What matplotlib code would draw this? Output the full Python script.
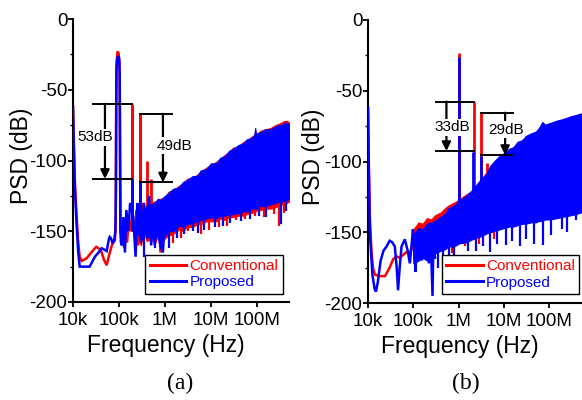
import numpy as np
import matplotlib
matplotlib.use("Agg")
import matplotlib.pyplot as plt
from matplotlib.ticker import FixedLocator, LogLocator, NullFormatter, MultipleLocator

plt.rcParams['font.family'] = ['Liberation Sans', 'DejaVu Sans']
plt.rcParams['axes.unicode_minus'] = False

RED = '#ff0000'
BLUE = '#0000ff'

# ---------------- panel (a) ----------------
# low-frequency traces (Hz, dB)
conv_a_f = [1.0e4, 1.05e4, 1.1e4, 1.2e4, 1.3e4, 1.4e4, 1.55e4, 2.0e4, 2.5e4, 3.2e4, 4.0e4, 4.7e4,
            5.4e4, 6.2e4, 7.0e4, 8.2e4, 8.5e4, 8.7e4, 8.9e4, 9.3e4, 9.8e4, 1.03e5, 1.06e5, 1.1e5,
            1.2e5, 1.3e5, 1.4e5, 1.5e5, 1.65e5, 1.8e5, 2.0e5, 2.2e5, 2.4e5, 2.6e5, 3.0e5, 3.4e5,
            3.8e5, 4.5e5, 5.2e5, 6.0e5, 7.0e5, 8.0e5, 9.0e5, 1.0e6]
conv_a_db = [-62, -90, -115, -140, -158, -168, -171, -169, -165, -161, -163, -170,
             -174, -166, -160, -156, -140, -60, -30, -23, -24, -32, -100, -158,
             -150, -162, -145, -158, -140, -150, -140, -155, -135, -160, -150, -130,
             -140, -155, -140, -160, -130, -165, -140, -150]
prop_a_f = [1.0e4, 1.05e4, 1.1e4, 1.2e4, 1.3e4, 1.4e4, 1.8e4, 2.3e4, 3.0e4, 3.6e4, 4.2e4, 4.8e4,
            5.4e4, 6.0e4, 6.3e4, 6.7e4, 7.2e4, 7.8e4, 8.4e4, 8.6e4, 8.8e4, 9.2e4, 9.7e4, 1.01e5,
            1.04e5, 1.07e5, 1.15e5, 1.25e5, 1.35e5, 1.45e5, 1.6e5, 1.75e5, 2.05e5, 2.3e5, 2.5e5,
            2.7e5, 3.1e5, 3.5e5, 4.0e5, 4.5e5, 5.0e5, 6.0e5, 7.0e5, 8.0e5, 9.0e5, 1.0e6]
prop_a_db = [-62, -95, -120, -145, -165, -175, -175, -175, -168, -165, -162, -163,
             -164, -156, -154, -155, -158, -157, -150, -120, -35, -28, -26, -28,
             -40, -150, -160, -140, -165, -135, -150, -130, -140, -168, -130,
             -150, -155, -130, -150, -125, -160, -130, -150, -160, -165, -140]

# dense noise floor envelopes
band_a_f = [2.5e5, 3e5, 3.5e5, 4e5, 5e5, 6e5, 7e5, 8e5, 1e6, 1.2e6, 1.5e6, 2e6, 2.5e6, 3e6,
            4e6, 5e6, 6e6, 8e6, 1e7, 1.3e7, 1.6e7, 2e7, 2.5e7, 3e7, 4e7, 5e7, 6e7, 7e7, 8e7,
            8.8e7, 9.2e7, 9.6e7, 1e8, 1.2e8, 1.5e8, 2e8, 2.5e8, 3e8, 3.5e8, 4e8, 4.5e8, 5e8]
prop_a_hi = [-140, -136, -135, -132, -131, -130, -127, -128, -125, -123, -120, -119, -115, -114,
             -111, -111, -107, -106, -102, -102, -98, -97, -93, -92, -89, -88, -85, -85, -83,
             -82, -77, -82, -81, -80, -78, -78, -76, -75, -75, -73, -74, -74]
prop_a_lo = [-150, -158, -148, -155, -152, -157, -150, -158, -153, -150, -150, -146, -147, -145,
             -144, -143, -142, -141, -140, -141, -139, -139, -138, -138, -137, -136, -136, -135, -134,
             -134, -133, -134, -133, -132, -132, -131, -130, -129, -129, -128, -128, -127]
conv_a_hi = [-139, -137, -134, -133, -130, -129, -128, -127, -126, -122, -121, -118, -116, -113,
             -112, -110, -108, -105, -103, -101, -99, -96, -94, -91, -90, -87, -86, -84, -83,
             -82, -79, -82, -81, -79, -78, -77, -75, -74, -73, -72, -72, -73]
conv_a_lo = [-152, -160, -150, -157, -155, -159, -153, -160, -155, -153, -152, -149, -150, -147,
             -147, -145, -145, -143, -143, -143, -141, -142, -140, -140, -139, -139, -138, -137, -137,
             -136, -136, -136, -135, -135, -134, -134, -133, -132, -131, -131, -130, -129]
# narrow dips below the floor
prop_a_dip_f = [3.5e5, 6e5, 9e5, 1.2e6, 1.8e6, 2.6e6, 4e6, 5.2e6, 7e6, 1.2e7, 1.8e7, 2.6e7,
                4.5e7, 7e7, 1.1e8, 1.6e8, 3.3e8, 4.2e8]
prop_a_dip_db = [-168, -162, -165, -162, -155, -152, -150, -151, -149, -147, -146, -144,
                 -143, -141, -139, -140, -145, -136]
conv_a_dip_f = [1.5e6, 2.2e6, 3.2e6, 6e6, 9e6, 1.5e7, 2.2e7, 3.5e7, 5.5e7, 9e7, 1.4e8, 2.4e8,
                3.1e8, 3.8e8]
conv_a_dip_db = [-158, -155, -150, -152, -149, -147, -146, -142, -141, -139, -140, -138,
                 -146, -137]
# spurious tones (frequency, top)
conv_a_spk_f = [1.88e5, 1.93e5, 2.87e5, 2.93e5, 4.0e5, 5.0e5]
conv_a_spk_db = [-62, -60, -68, -67, -100, -113]
prop_a_spk_f = [1.9e5, 2.9e5]
prop_a_spk_db = [-113, -115]

# ---------------- panel (b) ----------------
conv_b_f = [1.0e4, 1.04e4, 1.1e4, 1.2e4, 1.3e4, 1.43e4, 1.8e4, 2.37e4, 3.0e4, 3.6e4, 4.26e4, 5.0e4,
            6.0e4, 7.0e4, 8.0e4, 9.8e4, 1.1e5, 1.2e5, 1.3e5, 1.4e5, 1.5e5, 1.7e5, 1.9e5, 2.1e5,
            2.3e5, 2.6e5, 2.9e5, 3.2e5]
conv_b_db = [-62, -100, -140, -165, -176, -180, -181, -181, -175, -169, -167, -168,
             -166, -164, -165, -161, -150, -162, -148, -160, -146, -158, -143, -155,
             -143, -150, -140, -152]
prop_b_f = [1.0e4, 1.04e4, 1.1e4, 1.25e4, 1.4e4, 1.5e4, 1.65e4, 1.9e4, 2.2e4, 2.57e4, 3.0e4, 3.4e4,
            3.9e4, 4.3e4, 4.6e4, 5.0e4, 5.5e4, 6.5e4, 7.5e4, 8.4e4, 9.2e4, 9.8e4, 1.05e5, 1.12e5,
            1.2e5, 1.3e5, 1.4e5, 1.55e5, 1.7e5, 1.85e5, 2.0e5, 2.2e5, 2.4e5, 2.65e5, 2.8e5, 3.0e5]
prop_b_db = [-62, -105, -150, -180, -190, -192, -185, -170, -163, -160, -156, -157,
             -160, -175, -191, -175, -160, -155, -163, -172, -158, -148, -160, -178,
             -155, -168, -150, -170, -148, -165, -146, -172, -150, -195, -148, -168]

band_b_f = [1e5, 1.3e5, 1.6e5, 2e5, 2.5e5, 3e5, 4e5, 5e5, 6e5, 8e5, 1e6, 1.5e6, 2e6, 3e6, 4e6,
            5e6, 6e6, 8e6, 1e7, 1.3e7, 1.6e7, 2e7, 2.5e7, 3e7, 4e7, 5e7, 6e7, 7e7, 8e7, 1e8,
            1.5e8, 2e8, 3e8, 4e8, 5e8]
prop_b_hi = [-152, -147, -148, -144, -143, -142, -139, -137, -133, -131, -128, -124, -120, -113,
             -109, -103, -100, -96, -94, -91, -90, -86, -85, -82, -80, -79, -76, -72, -74, -73,
             -71, -70, -68, -67, -66]
prop_b_lo = [-172, -170, -168, -170, -167, -165, -163, -162, -160, -160, -158, -157, -155, -153,
             -151, -150, -149, -148, -147, -146, -146, -145, -144, -144, -143, -143, -142, -142,
             -141, -141, -140, -139, -138, -137, -136]
conv_b_hi = [-148, -143, -144, -140, -141, -138, -136, -133, -131, -129, -127, -123, -121, -114,
             -108, -104, -101, -97, -95, -92, -90, -87, -85, -83, -81, -79, -77, -74, -75, -73,
             -72, -71, -69, -68, -67]
conv_b_lo = [-168, -166, -165, -165, -163, -160, -160, -158, -157, -156, -155, -154, -153, -151,
             -150, -149, -148, -147, -146, -145, -145, -144, -143, -143, -142, -142, -141, -141,
             -140, -140, -139, -138, -137, -136, -135]
prop_b_dip_f = [3.5e5, 4.5e5, 6e5, 8e5, 1.2e6, 1.6e6, 2.4e6, 3.5e6, 5e6, 7e6, 1.1e7, 1.5e7,
                2.2e7, 3e7, 4.5e7, 7.4e7, 1.1e8, 1.9e8, 2.5e8, 3.9e8]
prop_b_dip_db = [-175, -170, -172, -166, -158, -163, -163, -160, -164, -158, -159, -156,
                 -160, -155, -158, -159, -152, -148, -150, -141]
conv_b_dip_f = [3.8e5, 7e5, 1.4e6, 2.8e6, 6e6]
conv_b_dip_db = [-163, -165, -160, -158, -155]
conv_b_spk_f = [1.0e6, 2.14e6, 3.17e6, 4.3e6, 5.2e6]
conv_b_spk_db = [-23, -58, -66, -101, -108]
prop_b_spk_f = [1.02e6, 2.1e6, 3.15e6]
prop_b_spk_db = [-26, -93, -96]

x_ticks = [1e4, 1e5, 1e6, 1e7, 1e8]
x_labels = ['10k', '100k', '1M', '10M', '100M']
y_ticks = [0, -50, -100, -150, -200]


def draw_series(ax, color, z, f, db, bf, hi, lo, dip_f, dip_db, spk_f, spk_db, label):
    ax.plot(f, db, color=color, lw=1.8, label=label, solid_joinstyle='miter', zorder=z)
    ax.fill_between(bf, lo, hi, color=color, lw=0.8, edgecolor=color, zorder=z)
    ax.vlines(dip_f, dip_db, np.array(dip_db) + 25, color=color, lw=1.6, zorder=z)
    ax.vlines(spk_f, -150, spk_db, color=color, lw=2.0, zorder=z)


def bracket(ax, x0, x1, top, bot, xa, text, xt, yt):
    ax.plot([x0, x1], [top, top], color='k', lw=1.4, zorder=5)
    ax.plot([x0, x1], [bot, bot], color='k', lw=1.4, zorder=5)
    ax.annotate('', xy=(xa, bot), xytext=(xa, top),
                arrowprops=dict(arrowstyle='-|>', color='k', lw=1.6, mutation_scale=13,
                                shrinkA=0, shrinkB=0), zorder=6)
    ax.text(xt, yt, text, ha='center', va='center', fontsize=11, zorder=7,
            bbox=dict(facecolor='white', edgecolor='none', pad=1.0))


def style_axes(ax, legend_anchor, ylab_x, xlab_x, xlab_y):
    ax.set_xscale('log')
    ax.set_xlim(1e4, 5e8)
    ax.set_ylim(-200, 0)
    for s in ['top', 'right']:
        ax.spines[s].set_visible(False)
    for s in ['left', 'bottom']:
        ax.spines[s].set_linewidth(1.5)
    ax.xaxis.set_major_locator(FixedLocator(x_ticks))
    ax.set_xticklabels(x_labels)
    ax.xaxis.set_minor_locator(LogLocator(base=10, subs=np.arange(2, 10)))
    ax.xaxis.set_minor_formatter(NullFormatter())
    ax.set_yticks(y_ticks)
    ax.set_yticklabels([str(v) for v in y_ticks])
    ax.yaxis.set_minor_locator(MultipleLocator(25))
    ax.tick_params(which='major', direction='out', length=3.6, width=1.3, labelsize=13.5)
    ax.tick_params(axis='y', which='major', pad=0.5)
    ax.tick_params(axis='x', which='major', pad=3.5)
    ax.tick_params(which='minor', direction='out', length=2.2, width=1.0)
    ax.set_xlabel('Frequency (Hz)', fontsize=16.5, va='center')
    ax.set_ylabel('PSD (dB)', fontsize=16.5, va='center')
    ax.yaxis.set_label_coords(ylab_x, 0.515)
    ax.xaxis.set_label_coords(xlab_x, xlab_y)
    leg = ax.legend(loc='lower right', bbox_to_anchor=legend_anchor, borderaxespad=0,
                    fontsize=11, labelcolor='linecolor', fancybox=False, framealpha=1,
                    edgecolor='k', handlelength=2.4, handletextpad=0.2, borderpad=0.3,
                    labelspacing=0.15)
    leg.set_zorder(10)
    leg.get_frame().set_linewidth(1.0)
    for line in leg.get_lines():
        line.set_linewidth(2.2)


fig = plt.figure(figsize=(5.82, 4.0), dpi=100)
ax_a = fig.add_axes([0.1254, 0.245, 0.3712, 0.7075])
ax_b = fig.add_axes([0.6323, 0.2425, 0.366, 0.7075])

draw_series(ax_a, RED, 2, conv_a_f, conv_a_db, band_a_f, conv_a_hi, conv_a_lo,
            conv_a_dip_f, conv_a_dip_db, conv_a_spk_f, conv_a_spk_db, 'Conventional')
draw_series(ax_a, BLUE, 3, prop_a_f, prop_a_db, band_a_f, prop_a_hi, prop_a_lo,
            prop_a_dip_f, prop_a_dip_db, prop_a_spk_f, prop_a_spk_db, 'Proposed')
bracket(ax_a, 2.72e4, 1.92e5, -60, -113, 4.96e4, '53dB', 3.0e4, -83.5)
bracket(ax_a, 2.86e5, 1.42e6, -67, -115.5, 9.05e5, '49dB', 1.57e6, -89.6)
style_axes(ax_a, (0.972, 0.028), -0.24, 0.43, -0.155)

draw_series(ax_b, RED, 2, conv_b_f, conv_b_db, band_b_f, conv_b_hi, conv_b_lo,
            conv_b_dip_f, conv_b_dip_db, conv_b_spk_f, conv_b_spk_db, 'Conventional')
draw_series(ax_b, BLUE, 3, prop_b_f, prop_b_db, band_b_f, prop_b_hi, prop_b_lo,
            prop_b_dip_f, prop_b_dip_db, prop_b_spk_f, prop_b_spk_db, 'Proposed')
bracket(ax_b, 3.12e5, 2.14e6, -57.7, -92.6, 5.37e5, '33dB', 7.38e5, -75.8)
bracket(ax_b, 3.05e6, 1.62e7, -65.5, -95.4, 1.06e7, '29dB', 1.12e7, -77.5)
style_axes(ax_b, (0.992, 0.031), -0.258, 0.432, -0.152)

fig.text(180 / 582, 1 - 383 / 400, '(a)', ha='center', va='center', fontsize=17,
         family=['Liberation Serif', 'DejaVu Serif'])
fig.text(466 / 582, 1 - 383 / 400, '(b)', ha='center', va='center', fontsize=17,
         family=['Liberation Serif', 'DejaVu Serif'])

fig.savefig('out.png', dpi=100)
